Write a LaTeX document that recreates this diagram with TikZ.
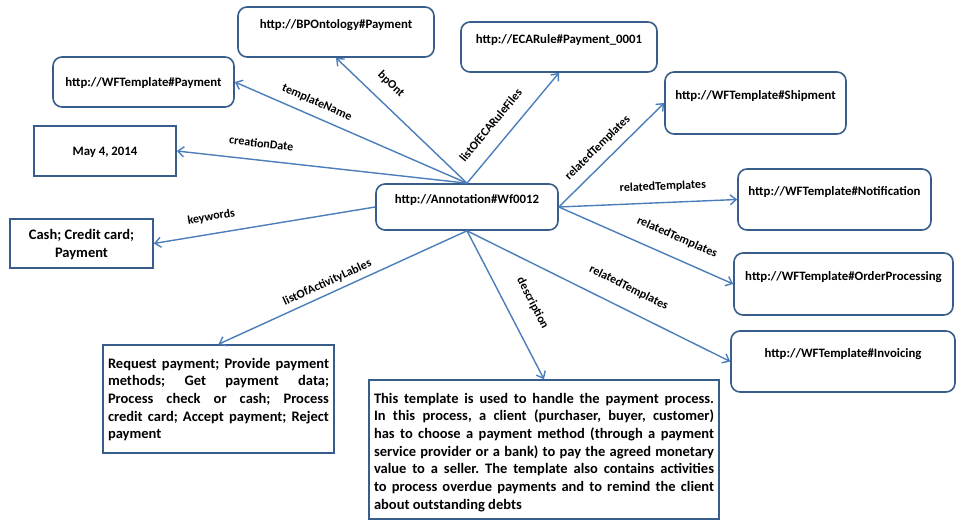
\documentclass[tikz,border=0pt]{standalone}
\usepackage{fontspec}
\setmainfont{Carlito}[BoldFont={* Bold}]
\usetikzlibrary{arrows.meta}
\definecolor{bord}{HTML}{385D8A}
\definecolor{edg}{HTML}{4A7EBB}
\frenchspacing
\newcommand{\tbx}[4]{\parbox[c][#2][t]{#1}{\centering\rule{0pt}{#3}#4\par}}
\newcommand{\jbx}[4]{\parbox[c][#2][t]{#1}{\leftskip=5pt\rightskip=5pt\hyphenpenalty=10000\tolerance=9999\hbadness=10000\fontsize{14.5}{17.7}\selectfont\bfseries\rule{0pt}{#3}#4\par}}
\tikzset{
  rbox/.style={draw=bord, line width=1.6pt, rounded corners=9pt, inner sep=0pt, fill=white, font=\fontsize{12.8}{15}\selectfont\bfseries},
  sbox/.style={draw=bord, line width=1.6pt, inner sep=0pt, fill=white, font=\fontsize{12.8}{15}\selectfont\bfseries},
  edge/.style={draw=edg, line width=1.4pt, -{Straight Barb[length=6pt,width=10pt,line width=1.4pt]}},
  lbl/.style={sloped, inner sep=0pt, font=\fontsize{12}{14}\selectfont\bfseries, text=black}
}
\begin{document}
\begin{tikzpicture}[x=1pt,y=-1pt]
\useasboundingbox (0,0) rectangle (956,521);
\node[rbox] (bp) at (336,32) {\tbx{196pt}{50pt}{22pt}{http://BPOntology\#Payment}};
\node[rbox] (wfpay) at (143.5,82) {\tbx{181pt}{50pt}{30pt}{http://WFTemplate\#Payment}};
\node[rbox] (eca) at (559,47) {\tbx{196pt}{50pt}{22pt}{http://ECARule\#Payment\_0001}};
\node[rbox] (ship) at (755.5,103) {\tbx{181pt}{62pt}{28pt}{http://WFTemplate\#Shipment}};
\node[sbox] (date) at (105,151) {\tbx{142pt}{50pt}{30pt}{May 4, 2014}};
\node[rbox] (ann) at (467,207) {\tbx{182pt}{46pt}{20pt}{http://Annotation\#Wf0012}};
\node[rbox] (notif) at (834.5,199.5) {\tbx{193pt}{61pt}{27pt}{http://WFTemplate\#Notification}};
\node[sbox] (cash) at (81.5,243.5) {\tbx{143pt}{49pt}{21pt}{\fontsize{14.5}{18}\selectfont\bfseries Cash; Credit card;\\Payment}};
\node[rbox] (order) at (843.5,284) {\tbx{219pt}{62pt}{28pt}{http://WFTemplate\#OrderProcessing}};
\node[rbox] (inv) at (843,361.5) {\tbx{224pt}{61pt}{27pt}{http://WFTemplate\#Invoicing}};
\node[sbox] (act) at (218.5,399) {\jbx{231pt}{108pt}{23pt}{Request payment; Provide payment\linebreak methods; Get payment data;\linebreak Process check or cash; Process\linebreak credit card; Accept payment; Reject\linebreak payment}};
\node[sbox] (desc) at (544,449.5) {\jbx{350pt}{139pt}{23pt}{This template is used to handle the payment process.\linebreak In this process, a client (purchaser, buyer, customer)\linebreak has to choose a payment method (through a payment\linebreak service provider or a bank) to pay the agreed monetary\linebreak value to a seller. The template also contains activities\linebreak to process overdue payments and to remind the client\linebreak about outstanding debts}};

\draw[edge] (ann.north) -- node[lbl, pos=0.67, above=8pt] {templateName} (wfpay.east);
\draw[edge] (ann.north) -- node[lbl, pos=0.68, above=13pt] {bpOnt} (bp.south);
\draw[edge] (ann.north) -- node[lbl, pos=0.415, above=14pt] {listOfECARuleFiles} (eca.south);
\draw[edge] (ann.north) -- node[lbl, pos=0.715, above=12pt] {creationDate} (date.east);
\draw[edge] (ann.west) -- node[lbl, pos=0.728, above=11pt] {keywords} (cash.east);
\draw[edge] (ann.south) -- node[lbl, pos=0.544, above=5pt] {listOfActivityLables} (act.north);
\draw[edge] (ann.south) -- node[lbl, pos=0.565, above=19pt] {description} (desc.north);
\draw[edge] (ann.east) -- node[lbl, pos=0.468, above=9pt] {relatedTemplates} (ship.west);
\draw[edge] (ann.east) -- node[lbl, pos=0.587, above=10pt] {relatedTemplates} (notif.west);
\draw[edge] (ann.east) -- node[lbl, pos=0.632, above=14pt] {relatedTemplates} (order.west);
\draw[edge] (ann.south) -- node[lbl, pos=0.579, above=15pt] {relatedTemplates} (inv.west);
\end{tikzpicture}
\end{document}
